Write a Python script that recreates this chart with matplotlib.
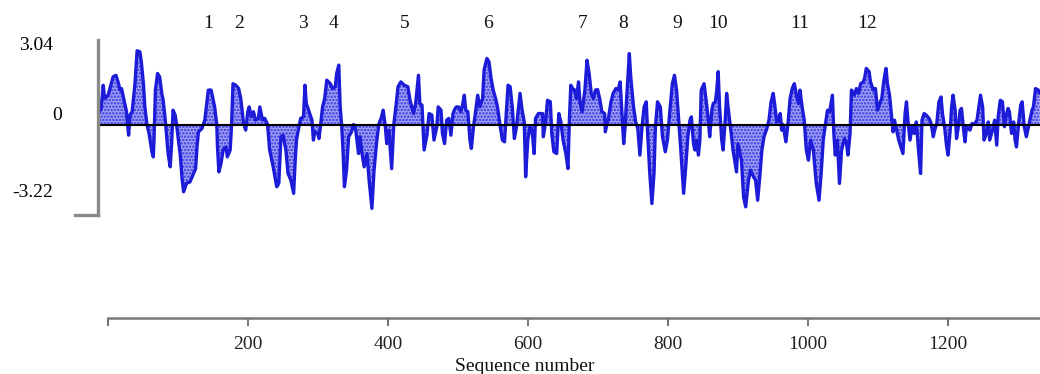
import numpy as np
import matplotlib
matplotlib.use('Agg')
import matplotlib.pyplot as plt

# hydropathy profile (residue number, score)
residue = [
    0, 3, 6, 8, 13, 20, 24, 27, 30, 32, 36, 39, 42, 44, 47, 51, 54, 58, 60, 63,
    65, 68, 71, 75, 77, 78, 80, 83, 86, 89, 91, 94, 96, 98, 101, 103, 105, 108, 110, 112,
    115, 118, 120, 124, 129, 134, 137, 139, 141, 146, 150, 155, 159, 164,
    167, 168, 170, 173, 176, 180, 182, 186, 188, 190, 194, 198, 201, 205, 208, 211,
    213, 216, 219, 222, 226, 228, 232, 235, 239, 242, 247, 252, 255, 258, 261, 265,
    268, 272, 276, 278, 280, 283, 286, 290, 292, 294, 298, 302, 304, 306, 310, 312,
    315, 317, 320, 323, 328, 331, 335,
    337, 340, 342, 344, 346, 348, 351, 354, 358, 361, 364, 368, 370, 373, 376, 380,
    383, 387, 390, 394, 397, 400, 403, 406, 408, 411, 415, 418, 421, 424, 428, 433,
    438, 441, 446, 449, 453, 455, 458, 461, 465, 468, 472, 475, 479, 481, 485, 487,
    490, 493, 496, 499, 502, 505,
    507, 510, 513, 515, 518, 520, 523, 526, 528, 531, 533, 537, 540, 544, 546, 550,
    553, 556, 559, 563, 565, 569, 572, 575, 578, 580, 583, 586, 589, 592, 595, 597,
    600, 603, 605, 608, 611, 614, 617, 619, 623, 629, 630, 633, 636, 640, 642, 645,
    649, 652, 655, 658, 662, 665, 667, 669, 673, 675,
    677, 680, 682, 685, 689, 692, 695, 698, 701, 704, 707, 710, 713, 717, 718, 720,
    722, 726, 729, 733, 736, 739, 741, 744, 746, 748, 752, 754, 758, 761, 764, 767,
    770, 773, 776, 778, 781, 784, 787, 789, 792, 796, 799, 803, 806, 810, 813, 816,
    819, 822, 825, 829, 832, 835, 838, 840, 843, 845,
    847, 850, 852, 854, 858, 862, 864, 866, 869, 871, 874, 876, 878, 880, 883, 885,
    888, 890, 892, 895, 897, 899, 902, 904, 906, 911, 914, 917, 921, 924, 928, 931,
    934, 937, 940, 943, 947, 950, 953, 956, 958, 961, 963, 966, 968, 970, 974, 977,
    980, 983, 986, 989, 992, 994, 997, 1000, 1003, 1006, 1009, 1013,
    1017, 1021, 1024, 1027, 1030, 1033, 1036, 1040, 1042, 1044, 1047, 1050, 1053, 1057, 1060, 1062,
    1065, 1067, 1071, 1074, 1077, 1080, 1084, 1086, 1088, 1092, 1094, 1098, 1101, 1104, 1107, 1110,
    1113, 1116, 1118, 1121, 1124, 1126, 1128, 1131, 1134, 1137, 1140, 1143, 1145, 1147, 1150, 1153,
    1156, 1159, 1162, 1165, 1167, 1170, 1173, 1177, 1180, 1183, 1185,
    1188, 1191, 1194, 1196, 1199, 1202, 1204, 1207, 1209, 1211, 1214, 1216, 1219, 1221, 1223, 1226,
    1228, 1230, 1233, 1235, 1238, 1241, 1245, 1247, 1250, 1253, 1255, 1259, 1261, 1263, 1267, 1270,
    1273, 1275, 1278, 1281, 1284, 1286, 1289, 1291, 1294, 1297, 1299, 1301, 1304, 1307, 1309, 1312,
    1315, 1319, 1323, 1325, 1328, 1332, 1334,
]
hydropathy = [
    0.45, 0.63, 1.54, 1.02, 1.15, 1.87, 1.93, 1.67, 1.35, 1.41, 0.89, 0.5, -0.42, 0.37, 0.5, 1.6, 2.89, 2.85, 2.46, 1.6,
    0.69, 0, -0.35, -1.07, -1.27, -0.61, 1.35, 2.0, 1.87, 1.22, 0.95, 0.17, -0.48, -1.14, -1.66, -0.75, 0.56, 0.37, 0, -0.48,
    -1.14, -2.18, -2.64, -2.31, -2.25, -1.92, -1.73, -0.88, -0.29, -0.16, 0.17, 1.35, 1.35, 0.69,
    0, -0.88, -1.86, -1.53, -1.0, -0.88, -1.27, -1.0, 0, 1.6, 1.54, 1.41, 1.02, 0.04, -0.22, 0.5,
    0.69, 0.3, 0.5, 0.17, 0.24, 0.69, 0.17, 0.24, 0, -1.0, -1.66, -2.44, -2.31, -0.48, -0.42, -1.0,
    -1.92, -2.18, -2.7, -1.53, -0.61, -0.16, 0.24, 0.3, 1.54, 0.82, 0.5, 0.17, -0.61, -0.29, -0.35, -0.55,
    0.17, 0.69, 1.02, 1.74, 1.6, 1.41, 1.48,
    2.0, 2.33, 0.69, 0, -1.0, -2.44, -1.79, -0.48, -0.29, 0, -0.22, -1.14, -0.48, -1.14, -1.66, -1.14,
    -2.18, -3.29, -1.79, -0.61, 0.04, 0.24, 0.56, -0.09, -0.75, -0.22, -1.73, 0, 0.69, 1.48, 1.67, 1.54,
    1.48, 0.95, 0.43, 0.82, 1.93, 0.82, 0.76, -1.0, -0.42, 0.43, 0.37, -0.61, -0.09, 0.69, 0.56, -0.35,
    -0.75, 0.17, 0.24, -0.42, 0.43, 0.63,
    0.69, 0.69, 0.5, 0.69, 1.15, 0.56, 0.5, -0.61, -0.94, -0.09, 0.3, 1.15, 0.69, 1.02, 2.13, 2.59,
    2.46, 1.8, 1.35, 0.95, 0.69, -0.09, -0.61, -0.68, 0.69, 1.54, 1.48, 0.69, -0.55, -0.09, 0.69, 1.22,
    0.56, 0.1, -2.05, -0.61, -0.09, -0.22, -1.14, 0.24, 0.43, 0.43, -0.48, 0.04, 0.95, 0.89, -0.35, -1.07,
    -1.14, 0.43, 0.1, -0.61, -1.14, -1.73, 0.17, 1.54, 1.35, 1.35,
    1.02, 1.67, 0.89, 0.5, 1.35, 2.52, 2.0, 1.22, 1.02, 1.35, 1.37, 1.02, 0.5, 0.43, -0.29, 0,
    0.17, 0.89, 1.22, 1.41, 1.35, 1.67, 0.69, -0.75, -0.09, 0.95, 2.78, 1.87, 0.69, 0.1, -0.16, -1.2,
    -0.09, 0.69, 0.89, -0.35, -1.92, -3.1, -1.92, -0.09, 0.89, 0.69, -0.48, -1.07, -0.61, 0.69, 1.6, 1.93,
    1.35, 0.17, -1.0, -2.7, -1.66, -0.48, 0.17, 0.3, -0.75, -1.0,
    -0.61, -1.2, -0.61, 1.35, 1.6, 0.69, 0.17, -0.48, 0.56, 0.82, 0.89, 1.35, 2.07, 0.69, -0.61, -1.0,
    0.17, 1.22, 0.69, 0, -0.48, -1.0, -1.53, -1.86, -0.75, -1.4, -2.84, -3.23, -2.18, -1.79, -2.05, -2.18,
    -2.97, -2.05, -1.0, -0.48, -0.16, 0.17, 0.89, 1.22, 0.82, 0.1, 0.17, 0.43, -0.22, 0, -0.68, 0.04,
    1.02, 1.41, 1.6, 1.15, 0.82, 1.35, 0.69, 0.17, -1.0, -1.4, -0.61, -1.0,
    -2.3, -2.97, -1.92, -0.61, 0, 0.56, 0.5, 1.15, -0.35, -1.2, -0.61, -2.31, -1.0, -0.55, -0.75, -1.2,
    -0.35, 1.35, 1.15, 1.41, 1.22, 1.6, 1.67, 1.87, 2.2, 2.07, 1.67, 1.35, 1.41, 0.56, 0.82, 1.02,
    1.74, 2.2, 1.6, 1.15, 0.3, -0.29, 0.17, -0.22, -0.61, -0.88, -1.14, 0.43, 0.89, 0.17, -0.61, -0.09,
    -0.35, 0.1, -1.0, -1.92, 0.17, 0.43, 0.37, 0.24, 0.04, -0.48, -0.22,
    0.04, 0.89, 1.08, 0.43, -0.09, -0.88, -1.2, -0.22, 0.69, 1.15, 0.56, -0.55, 0, 0.56, 0.63, -0.22,
    -0.68, -0.09, -0.16, -0.22, 0.04, 0, 0.17, 0.56, 1.15, 0.69, -0.61, -0.29, 0.1, -0.61, -0.22, 0.17,
    -0.81, 0.3, 0.95, 0.89, -0.09, 0.3, 0.63, 0.5, -0.35, 0.1, -0.61, -0.88, 0.04, 0.76, 0.89, -0.09,
    -0.48, 0.04, 0.56, 0.69, 1.41, 1.35, 1.22,
]

# transmembrane segment labels and where they sit along the sequence
segment_labels = ['1', '2', '3', '4', '5', '6', '7', '8', '9', '10', '11', '12']
segment_pos = [155, 199, 289, 332, 433, 552, 686, 743, 820, 878, 994, 1089]

scale_labels = ['3.04', '0', '-3.22']
seq_ticks = [0, 200, 400, 600, 800, 1000, 1200]
seq_ticklabels = ['', '200', '400', '600', '800', '1000', '1200']

W, H = 1040, 374
plt.rcParams['font.family'] = ['Liberation Serif', 'DejaVu Serif']
plt.rcParams['hatch.linewidth'] = 1.2

fig = plt.figure(figsize=(W / 100, H / 100), dpi=100)

# profile panel: 1.418 residues per pixel, 25.5 pixels per unit
res_per_px = 1.418
px_per_unit = 25.5
left_px, right_px, top_px, bot_px = 75, 1040, 40, 215
zero_px = 124.5
ax = fig.add_axes([left_px / W, 1 - bot_px / H,
                   (right_px - left_px) / W, (bot_px - top_px) / H])
x0 = -(99 - left_px) * res_per_px
x1 = (right_px - 99) * res_per_px
ylo = -(bot_px - zero_px) / px_per_unit
yhi = (zero_px - top_px) / px_per_unit
ax.set_xlim(x0, x1)
ax.set_ylim(ylo, yhi)
ax.axis('off')

res = np.array(residue, dtype=float)
hyd = np.array(hydropathy)
ax.fill_between(res, hyd, 0, facecolor='#a2a2f2', edgecolor='#3333e6',
                hatch='.....', linewidth=0, zorder=1)
ax.plot(res, hyd, color='#1c1cd8', lw=2.4, solid_joinstyle='round',
        solid_capstyle='round', zorder=2)
ax.plot([0, x1], [0, 0], color='black', lw=1.5, zorder=3)
ax.plot([-1, -1], [ylo, yhi], color='#8a8a8a', lw=2.4, clip_on=False, zorder=3)
ax.plot([x0, -1], [ylo, ylo], color='#8a8a8a', lw=2.4, clip_on=False, zorder=3)

for lab, pos in zip(segment_labels, segment_pos):
    ax.text(pos, yhi + 16 / px_per_unit, lab, ha='center', va='center',
            fontsize=14, color='#111111', clip_on=False)

fig.text(53 / W, 1 - 45 / H, scale_labels[0], ha='right', va='center', fontsize=14)
fig.text(62 / W, 1 - 115 / H, scale_labels[1], ha='right', va='center', fontsize=14)
fig.text(53 / W, 1 - 192 / H, scale_labels[2], ha='right', va='center', fontsize=14)

# sequence number axis
axb = fig.add_axes([108 / W, 1 - 318 / H, (W - 108) / W, 0.01])
axb.set_xlim(0, (W - 108) / 0.70)
axb.set_yticks([])
for s in ['top', 'left', 'right']:
    axb.spines[s].set_visible(False)
axb.patch.set_visible(False)
axb.spines['bottom'].set_color('#777777')
axb.spines['bottom'].set_linewidth(1.8)
axb.set_xticks(seq_ticks)
axb.set_xticklabels(seq_ticklabels)
axb.tick_params(axis='x', direction='out', length=6, width=1.5, color='#777777',
                labelsize=14, pad=7, labelcolor='#222222')
axb.set_xlabel('Sequence number', fontsize=14, color='#111111')
axb.xaxis.set_label_coords((525 - 108) / (W - 108), -10.6)

fig.savefig('out.png', dpi=100)
